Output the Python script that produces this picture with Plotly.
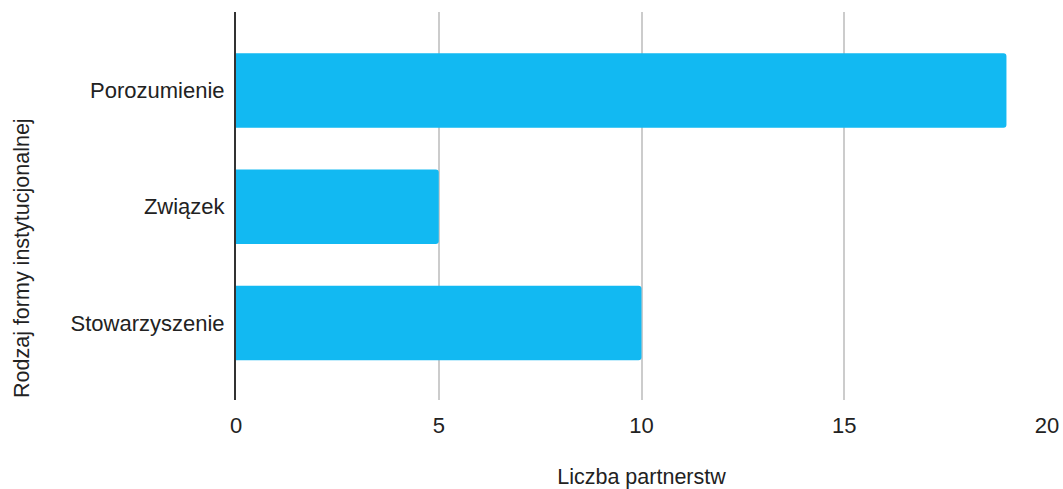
import plotly.graph_objects as go

# Institutional form categories (bottom to top) and number of partnerships
categories = ["Stowarzyszenie", "Związek", "Porozumienie"]
counts = [10, 5, 19]
x_ticks = [0, 5, 10, 15, 20]

FONT = "Arial"
TEXT = "#222222"

fig = go.Figure(
    go.Bar(
        x=counts,
        y=categories,
        orientation="h",
        marker=dict(color="#12B9F2", line=dict(width=0)),
        width=0.64,
    )
)

fig.update_layout(
    width=1063,
    height=489,
    margin=dict(l=236, r=16, t=12, b=89),
    paper_bgcolor="white",
    plot_bgcolor="white",
    showlegend=False,
    barcornerradius=3,
    font=dict(family=FONT, size=22, color=TEXT),
    xaxis=dict(
        range=[0, 20],
        tickvals=x_ticks,
        showgrid=True,
        gridcolor="#cccccc",
        gridwidth=1.5,
        zeroline=False,
        showline=False,
        ticks="",
        ticklabelstandoff=10,
        automargin=False,
        tickfont=dict(family=FONT, size=22, color=TEXT),
        title=dict(text="Liczba partnerstw", font=dict(family=FONT, size=21.5, color=TEXT), standoff=37),
    ),
    yaxis=dict(
        type="category",
        categoryorder="array",
        categoryarray=categories,
        range=[-0.661, 2.674],
        showgrid=False,
        showline=True,
        linecolor="#333333",
        linewidth=2,
        ticks="",
        ticklabelstandoff=5,
        automargin=False,
        tickfont=dict(family=FONT, size=22, color=TEXT),
    ),
    annotations=[
        dict(
            text="Rodzaj formy instytucjonalnej",
            textangle=-90,
            xref="paper",
            yref="paper",
            x=(22 - 236) / 811,
            y=(400 - 258) / 388,
            xanchor="center",
            yanchor="middle",
            showarrow=False,
            font=dict(family=FONT, size=21.5, color=TEXT),
        )
    ],
)

fig.write_html("out.html")
